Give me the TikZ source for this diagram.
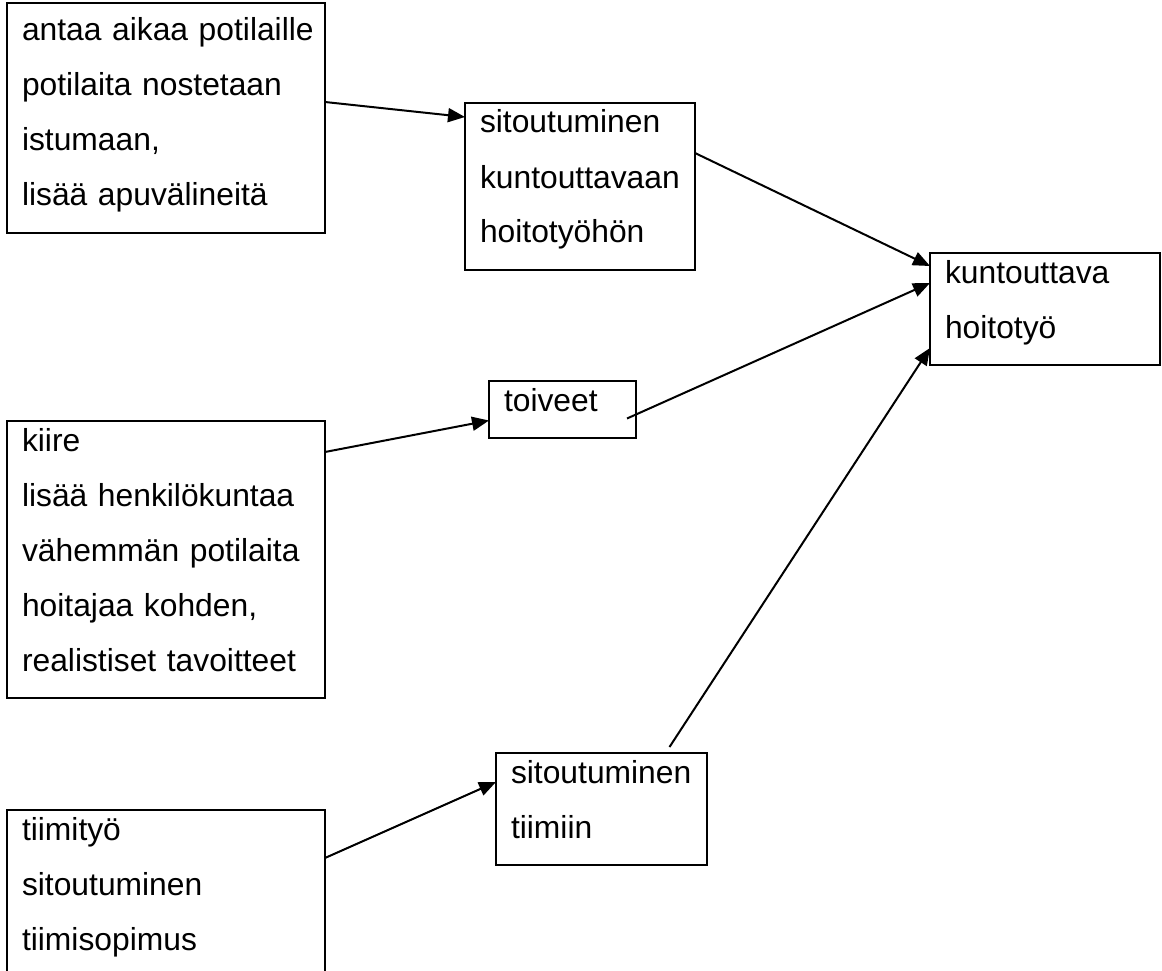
\documentclass[tikz,border=0pt]{standalone}
\usepackage{fontspec}
\setmainfont{Liberation Sans}
\usetikzlibrary{arrows.meta}

\tikzstyle{box} = [draw, line width = 2.7pt, anchor = north west, align = left, inner xsep = 15pt, inner ysep = 1pt, outer sep = 0pt, font = \fontsize{31.8}{55}\selectfont, execute at begin node = {\hyphenpenalty=10000\rule[-26pt]{0pt}{55pt}}, execute at end node = {\rule[-26pt]{0pt}{55pt}}]
\tikzstyle{link} = [-{Triangle[length = 17pt, width = 14pt]}, line width = 2pt]

\begin{document}
\begin{tikzpicture}[x = 1pt, y = -1pt]
		\useasboundingbox (0, 0) rectangle (1162, 971);
		\node [box, text width = 288pt, execute at begin node = {\rule{0pt}{37pt}}] at (7, 3) (1) {antaa~aikaa~potilaille\\ potilaita~nostetaan\\ istumaan,\\ lisää~apuvälineitä};
		\node [box, text width = 200pt] at (465, 103) (2) {sitoutuminen\\ kuntouttavaan\\ hoitotyöhön};
		\node [box, text width = 200pt] at (930, 253) (3) {kuntouttava\\ hoitotyö};
		\node [box, text width = 117pt] at (489, 381) (4) {toiveet};
		\node [box, text width = 288pt] at (7, 421) (5) {kiire\\ lisää~henkilökuntaa\\ vähemmän~potilaita\\ hoitajaa~kohden,\\ realistiset~tavoitteet};
		\node [box, text width = 181pt] at (496, 753) (6) {sitoutuminen\\ tiimiin};
		\node [box, text width = 288pt] at (7, 810) (7) {tiimityö\\ sitoutuminen\\ tiimisopimus};

		\draw [link] ([yshift = -99pt]1.north east) -- ([yshift = -14pt]2.north west);
		\draw [link] ([yshift = -50pt]2.north east) -- ([yshift = -13pt]3.north west);
		\draw [link] ([xshift = -9pt, yshift = -9pt]4.east) -- ([yshift = -30pt]3.north west);
		\draw [link] ([xshift = 68pt, yshift = 6pt]6.north) -- ([yshift = 17pt]3.south west);
		\draw [link] ([yshift = -31pt]5.north east) -- ([yshift = -11pt]4.west);
		\draw [link] ([yshift = -48pt]7.north east) -- ([yshift = -29pt]6.north west);
	\end{tikzpicture}
\end{document}
